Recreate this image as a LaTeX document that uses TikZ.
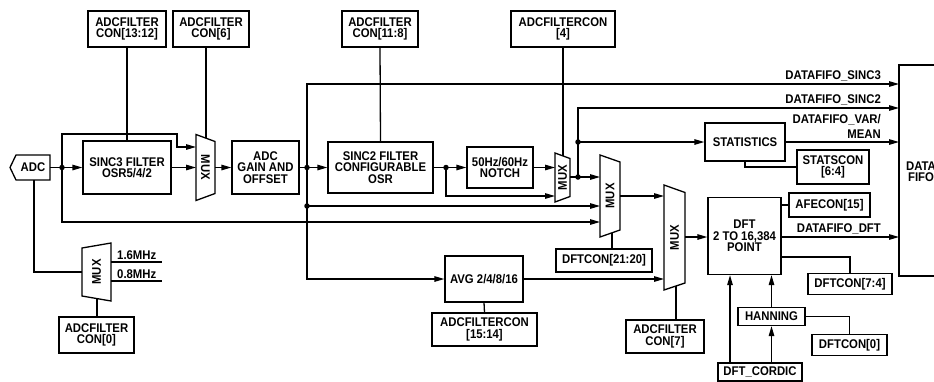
\documentclass[tikz,border=0pt]{standalone}
\usepackage{fontspec}
\setmainfont{Liberation Sans}[FakeStretch=0.9]
\usetikzlibrary{arrows.meta,calc}
\newcommand\dlab{\fontsize{12.6}{11.4}\selectfont\bfseries}
\begin{document}
\begin{tikzpicture}[x=1pt,y=-1pt,
  box/.style={draw, line width=1.3pt, inner sep=0pt, align=center, font=\dlab},
  wire/.style={line width=1.3pt},
  arr/.style={wire, -{Triangle[length=10pt,width=5.5pt]}},
  jdot/.style={circle, fill, inner sep=0pt, minimum size=5.5pt},
  muxlbl/.style={font=\dlab, inner sep=0pt},
  sig/.style={font=\dlab, inner sep=0pt}]
\useasboundingbox (0,0) rectangle (934,381);

% ---------- boxes ----------
\node[box, minimum width=78pt, minimum height=36pt] (c1312) at (127,29) {ADCFILTER\\CON[13:12]};
\node[box, minimum width=76pt, minimum height=36pt] (c6) at (211,29) {ADCFILTER\\CON[6]};
\node[box, minimum width=76pt, minimum height=36pt] (c118) at (380,29) {ADCFILTER\\CON[11:8]};
\node[box, minimum width=104pt, minimum height=36pt] (c4) at (563,29) {ADCFILTERCON\\{}[4]};
\node[box, minimum width=88pt, minimum height=53pt] (sinc3) at (127,167.5) {SINC3 FILTER\\OSR5/4/2};
\node[box, minimum width=67pt, minimum height=53pt] (gain) at (265.5,167.5) {ADC\\GAIN AND\\OFFSET};
\node[box, minimum width=105pt, minimum height=51pt] (sinc2) at (380.5,167.5) {SINC2 FILTER\\CONFIGURABLE\\OSR};
\node[box, minimum width=66pt, minimum height=41pt] (notch) at (500,167.5) {50Hz/60Hz\\NOTCH};
\node[box, minimum width=80pt, minimum height=38pt] (stats) at (745,142) {STATISTICS};
\node[box, minimum width=72pt, minimum height=34pt] (statscon) at (833,167) {STATSCON\\{}[6:4]};
\node[box, minimum width=73pt, minimum height=77pt] (dft) at (744.5,236) {DFT\\2 TO 16,384\\POINT};
\node[box, minimum width=81pt, minimum height=24pt] (afecon) at (829.5,205) {AFECON[15]};
\node[box, minimum width=84pt, minimum height=21pt] (dftcon74) at (850,284) {DFTCON[7:4]};
\node[box, minimum width=67pt, minimum height=18pt] (hanning) at (771.5,316.5) {HANNING};
\node[box, minimum width=84pt, minimum height=18pt] (cordic) at (760,372) {DFT\_CORDIC};
\node[box, minimum width=75pt, minimum height=21pt] (dftcon0) at (849.5,345) {DFTCON[0]};
\node[box, minimum width=96pt, minimum height=23pt] (dftcon2120) at (604,260.5) {DFTCON[21:20]};
\node[box, minimum width=78pt, minimum height=33pt] (c7) at (665,336.5) {ADCFILTER\\CON[7]};
\node[box, minimum width=78pt, minimum height=46pt] (avg) at (484,279) {AVG 2/4/8/16};
\node[box, minimum width=105pt, minimum height=33pt] (c1514) at (484.5,329.5) {ADCFILTERCON\\{}[15:14]};
\node[box, minimum width=75pt, minimum height=36pt] (c0) at (96.5,335) {ADCFILTER\\CON[0]};

% FIFO (cut by the right edge)
\draw[wire] (960,65) -- (899,65) -- (899,276) -- (960,276);
\node[box, draw=none] (fifo) at (921,171.5) {DATA\\FIFO};
\coordinate (fs3) at (899,84);
\coordinate (fs2) at (899,108);
\coordinate (fvm) at (899,142);
\coordinate (fdft) at (899,237);

% ADC input
\draw[wire, line join=miter] (10,167.5) -- (16,155) -- (50,155) -- (50,180) -- (16,180) -- cycle;
\node[muxlbl] (adc) at (33,167.5) {ADC};
\coordinate (adcR) at (50,167.5);
\coordinate (adcB) at (34,180);

% ---------- multiplexers ----------
\draw[wire, line join=miter] (196,134.5) -- (215,141.5) -- (215,193.5) -- (196,200.5) -- cycle;
\node[muxlbl, rotate=-90] (m1) at (205.5,167.5) {MUX};
\coordinate (m1i1) at (196,147); \coordinate (m1i2) at (196,167.5);
\coordinate (m1o) at (215,167.5); \coordinate (m1c) at (206,138.2);

\draw[wire, line join=miter] (555,153) -- (570,158.5) -- (570,196.5) -- (555,202) -- cycle;
\node[muxlbl, rotate=90] (ms) at (562.5,177.5) {MUX};
\coordinate (msi1) at (555,167.5); \coordinate (msi2) at (555,196);
\coordinate (mso) at (570,177); \coordinate (msc) at (563,156);

\draw[wire, line join=miter] (600,155) -- (620,162) -- (620,230) -- (600,237) -- cycle;
\node[muxlbl, rotate=90] (m2) at (610,196) {MUX};
\coordinate (m2i1) at (600,177); \coordinate (m2i2) at (600,206);
\coordinate (m2i3) at (600,222); \coordinate (m2o) at (620,196);
\coordinate (m2c) at (612,232.8);

\draw[wire, line join=miter] (664,185) -- (685,192.5) -- (685,283) -- (664,290) -- cycle;
\node[muxlbl, rotate=90] (m3) at (674.5,237.5) {MUX};
\coordinate (m3i1) at (664,196); \coordinate (m3i2) at (664,279);
\coordinate (m3o) at (685,237); \coordinate (m3c) at (676,286);

\draw[wire, line join=miter] (82,248) -- (111,243) -- (111,301) -- (82,296) -- cycle;
\node[muxlbl, rotate=90] (mc) at (96.5,272) {MUX};
\coordinate (mco) at (82,272); \coordinate (mci1) at (111,262);
\coordinate (mci2) at (111,281); \coordinate (mcc) at (97,298.6);
\coordinate (f16) at (162,262); \coordinate (f08) at (162,281);

% ---------- junctions ----------
\coordinate (j1) at (62,167.5);
\coordinate (j2) at (307,167.5);
\coordinate (j3) at (307,206);
\coordinate (j4) at (446,167.5);
\coordinate (j5) at (578,177);
\coordinate (j6) at (578,142);

% ---------- connectors ----------
\draw[wire] (adcR) -- (j1);
\draw[arr] (j1) -- (sinc3.west);
\draw[arr] (j1) |- (177,134) |- (m1i1);
\draw[arr] (j1) |- (m2i3);
\draw[arr] (sinc3.east) -- (m1i2);
\draw[arr] (m1o) -- (gain.west);
\draw[wire] (gain.east) -- (j2);
\draw[arr] (j2) -- (sinc2.west);
\draw[arr] (j2) |- (fs3);
\draw[wire] (j2) -- (j3);
\draw[arr] (j3) |- (avg.west);
\draw[arr] (j3) -- (m2i2);
\draw[wire] (sinc2.east) -- (j4);
\draw[arr] (j4) -- (notch.west);
\draw[arr] (j4) |- (msi2);
\draw[arr] (notch.east) -- (msi1);
\draw[wire] (mso) -- (j5);
\draw[arr] (j5) -- (m2i1);
\draw[wire] (j5) -- (j6);
\draw[arr] (j6) -- (stats.west);
\draw[arr] (j6) |- (fs2);
\draw[arr] (stats.east) -- (fvm);
\draw[wire] (stats.south) |- (statscon.west);
\draw[arr] (m2o) -- (m3i1);
\draw[wire] (m2c) -- (m2c |- dftcon2120.north);
\draw[arr] (avg.east) -- (m3i2);
\draw[wire] (avg.south) -- (c1514.north);
\draw[arr] (m3o) -- (dft.west |- m3o);
\draw[wire] (m3c) -- (m3c |- c7.north);
\draw[wire] (dft.east |- afecon.west) -- (afecon.west);
\draw[arr] (dft.east |- fdft) -- (fdft);
\coordinate (dfto2) at (781,257);
\draw[wire] (dft.east |- dfto2) -| (dftcon74.north);
\draw[arr] (hanning.north) -- (hanning.north |- dft.south);
\coordinate (cordL) at (730,363);
\draw[arr] (cordL) -- (cordL |- dft.south);
\draw[arr] (cordic.north -| hanning.south) -- (hanning.south);
\draw[wire] (hanning.east) -| (dftcon0.north);

% control lines
\draw[wire] (c1312.south) -- (sinc3.north);
\draw[wire] (m1c |- c6.south) -- (m1c);
\draw[wire] (c118.south) -- (sinc2.north);
\draw[wire] (msc |- c4.south) -- (msc);

% clock mux
\draw[wire] (mco) -| (adcB);
\draw[wire] (mci1) -- (f16);
\draw[wire] (mci2) -- (f08);
\draw[wire] (mcc) -- (mcc |- c0.north);

% junction dots
\foreach \j in {j1,j2,j3,j4,j5,j6} \node[jdot] at (\j) {};

% ---------- signal labels ----------
\node[sig, anchor=base east] (l1) at (881,79) {DATAFIFO\_SINC3};
\node[sig, anchor=base east] (l2) at (881,103) {DATAFIFO\_SINC2};
\node[sig, anchor=base east] (l3) at (881,123) {DATAFIFO\_VAR/};
\node[sig, anchor=base east] (l4) at (881,138) {MEAN};
\node[sig, anchor=base east] (l5) at (881,232) {DATAFIFO\_DFT};
\node[sig, anchor=base west] (l6) at (117,259) {1.6MHz};
\node[sig, anchor=base west] (l7) at (117,278) {0.8MHz};
\end{tikzpicture}
\end{document}
